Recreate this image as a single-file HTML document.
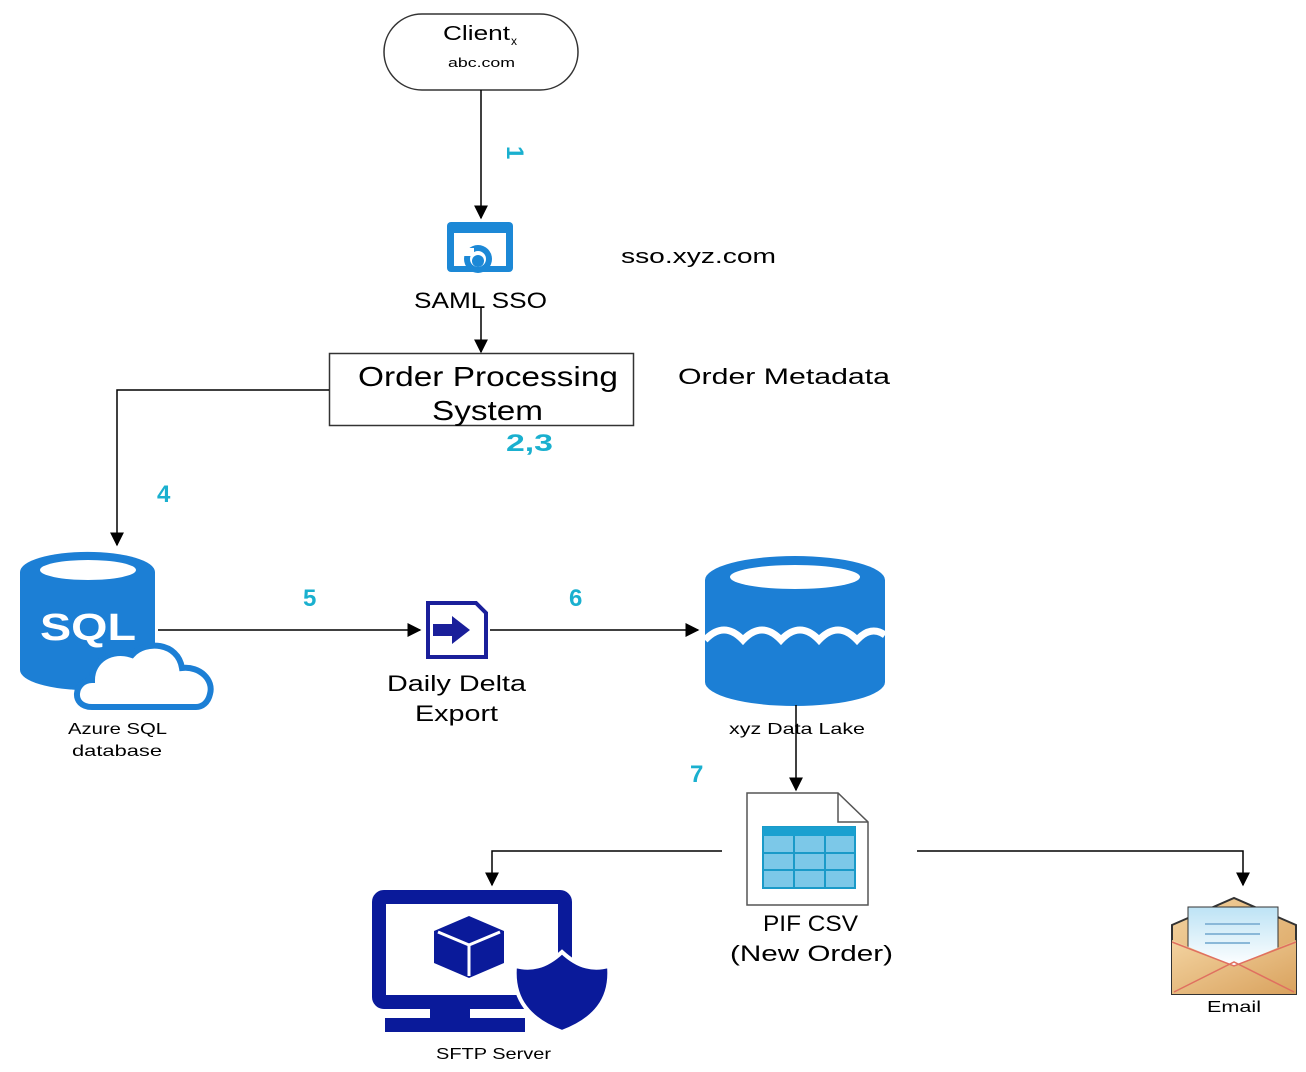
<!DOCTYPE html>
<html><head><meta charset="utf-8"><style>
html,body{margin:0;padding:0;background:#fff;}
svg{display:block;font-family:"Liberation Sans",sans-serif;}
.c{fill:#1ab0cf;font-weight:bold;font-size:24px;}
</style></head><body>
<svg width="1306" height="1072" viewBox="0 0 1306 1072" xmlns="http://www.w3.org/2000/svg">
<defs>
<marker id="ad" viewBox="0 0 10 10" markerWidth="14" markerHeight="16" refX="9" refY="5" orient="auto" markerUnits="userSpaceOnUse"><path d="M0,0 L10,5 L0,10 Z" fill="#000"/></marker>
<linearGradient id="env" x1="0" y1="0" x2="1" y2="1"><stop offset="0" stop-color="#f3d3a0"/><stop offset="1" stop-color="#d9a25e"/></linearGradient>
<linearGradient id="pap" x1="0" y1="0" x2="0" y2="1"><stop offset="0" stop-color="#bde3f5"/><stop offset="1" stop-color="#fff"/></linearGradient>
</defs>
<!-- client -->
<rect x="384" y="14" width="194" height="76" rx="38" fill="#fff" stroke="#333" stroke-width="1.5"/>
<text x="443" y="40" font-size="20" textLength="67" lengthAdjust="spacingAndGlyphs">Client</text>
<text x="511" y="45" font-size="12">x</text>
<text x="448" y="67" font-size="13" textLength="67" lengthAdjust="spacingAndGlyphs">abc.com</text>
<line x1="481" y1="90" x2="481" y2="218" stroke="#000" stroke-width="1.5" marker-end="url(#ad)"/>
<text class="c" x="0" y="0" transform="translate(507,146) rotate(90)" font-size="22">1</text>
<!-- SAML icon -->
<rect x="447" y="222" width="66" height="50" rx="4" fill="#1c88d6"/>
<rect x="454" y="233" width="52" height="33" fill="#fff"/>
<circle cx="478" cy="259" r="14" fill="#1c88d6"/>
<circle cx="478" cy="259" r="8" fill="#fff"/>
<circle cx="478" cy="261" r="6" fill="#1c88d6"/>
<rect x="456" y="248" width="18" height="8" fill="#fff"/>
<text x="414" y="308" font-size="22" textLength="133" lengthAdjust="spacingAndGlyphs">SAML SSO</text>
<text x="621" y="263" font-size="20" textLength="155" lengthAdjust="spacingAndGlyphs">sso.xyz.com</text>
<line x1="481" y1="308" x2="481" y2="352" stroke="#000" stroke-width="1.5" marker-end="url(#ad)"/>
<!-- order box -->
<rect x="329.5" y="353.5" width="304" height="72" fill="#fff" stroke="#333" stroke-width="1.5"/>
<text x="358" y="386" font-size="28" textLength="260" lengthAdjust="spacingAndGlyphs">Order Processing</text>
<text x="432" y="420" font-size="28" textLength="111" lengthAdjust="spacingAndGlyphs">System</text>
<text class="c" x="506" y="451" textLength="47" lengthAdjust="spacingAndGlyphs">2,3</text>
<text x="678" y="384" font-size="22" textLength="212" lengthAdjust="spacingAndGlyphs">Order Metadata</text>
<polyline points="329,390 117,390 117,545" fill="none" stroke="#000" stroke-width="1.5" marker-end="url(#ad)"/>
<text class="c" x="157" y="502">4</text>
<!-- SQL -->
<path d="M20,572 A67,20 0 0 1 155,572 L155,670 A67,20 0 0 1 20,670 Z" fill="#1c7fd5"/>
<ellipse cx="88" cy="570" rx="48" ry="10" fill="#fff"/>
<text x="40" y="640" font-size="38" font-weight="bold" fill="#fff" textLength="96" lengthAdjust="spacingAndGlyphs">SQL</text>
<path d="M92,707 C70,707 74,680 92,680 C92,660 112,648 132,655 C145,640 178,642 182,668 C200,666 214,680 210,694 C208,703 202,707 196,707 Z" fill="#fff" stroke="#1c7fd5" stroke-width="6"/>
<text x="68" y="734" font-size="16" textLength="99" lengthAdjust="spacingAndGlyphs">Azure SQL</text>
<text x="72" y="756" font-size="16" textLength="90" lengthAdjust="spacingAndGlyphs">database</text>
<line x1="158" y1="630" x2="420" y2="630" stroke="#000" stroke-width="1.5" marker-end="url(#ad)"/>
<text class="c" x="303" y="606">5</text>
<!-- export -->
<path d="M428,603 L476,603 L486,613 L486,657 L428,657 Z" fill="#fff" stroke="#1a1f9a" stroke-width="4"/>
<path d="M433,624 L452,624 L452,616 L470,630 L452,644 L452,636 L433,636 Z" fill="#1a1f9a"/>
<text x="387" y="691" font-size="22" textLength="139" lengthAdjust="spacingAndGlyphs">Daily Delta</text>
<text x="415" y="721" font-size="22" textLength="83" lengthAdjust="spacingAndGlyphs">Export</text>
<line x1="490" y1="630" x2="698" y2="630" stroke="#000" stroke-width="1.5" marker-end="url(#ad)"/>
<text class="c" x="569" y="606">6</text>
<!-- data lake -->
<path d="M705,580 A90,24 0 0 1 885,580 L885,682 A90,24 0 0 1 705,682 Z" fill="#1c7fd5"/>
<ellipse cx="795" cy="577" rx="65" ry="12" fill="#fff"/>
<path d="M705,640 Q724,620 743,640 Q762,620 781,640 Q800,620 819,640 Q838,620 857,640 Q871,625 885,635" fill="none" stroke="#fff" stroke-width="7"/>
<text x="729" y="734" font-size="16" textLength="136" lengthAdjust="spacingAndGlyphs">xyz Data Lake</text>
<line x1="796" y1="705" x2="796" y2="790" stroke="#000" stroke-width="1.5" marker-end="url(#ad)"/>
<text class="c" x="690" y="782">7</text>
<!-- CSV -->
<path d="M747,793 L838,793 L868,822 L868,905 L747,905 Z" fill="#fff" stroke="#555" stroke-width="1.5"/>
<path d="M838,793 L838,822 L868,822" fill="none" stroke="#555" stroke-width="1.5"/>
<rect x="763" y="827" width="92" height="61" fill="#7cc8e8" stroke="#1a9ac8" stroke-width="2"/>
<rect x="763" y="827" width="92" height="9" fill="#1aa0d0"/>
<g stroke="#1a9ac8" stroke-width="2"><line x1="794" y1="836" x2="794" y2="888"/><line x1="825" y1="836" x2="825" y2="888"/><line x1="763" y1="853" x2="855" y2="853"/><line x1="763" y1="870" x2="855" y2="870"/></g>
<text x="763" y="931" font-size="22" textLength="95" lengthAdjust="spacingAndGlyphs">PIF CSV</text>
<text x="730" y="961" font-size="22" textLength="163" lengthAdjust="spacingAndGlyphs">(New Order)</text>
<polyline points="722,851 492,851 492,885" fill="none" stroke="#000" stroke-width="1.5" marker-end="url(#ad)"/>
<polyline points="917,851 1243,851 1243,885" fill="none" stroke="#000" stroke-width="1.5" marker-end="url(#ad)"/>
<!-- SFTP -->
<rect x="379" y="897" width="186" height="105" rx="5" fill="none" stroke="#0a1a9a" stroke-width="14"/>
<rect x="430" y="1000" width="40" height="20" fill="#0a1a9a"/>
<rect x="385" y="1018" width="140" height="14" fill="#0a1a9a"/>
<path d="M469,916 L504,931 L504,963 L469,978 L434,963 L434,931 Z" fill="#0a1a9a"/>
<path d="M438,932 L469,945 L500,932 M469,945 L469,976" fill="none" stroke="#fff" stroke-width="3"/>
<path d="M562,952 C545,968 530,970 515,966 C512,1000 530,1020 562,1032 C594,1020 612,1000 609,966 C594,970 579,968 562,952 Z" fill="#0a1a9a" stroke="#fff" stroke-width="4"/>
<text x="436" y="1059" font-size="16" textLength="115" lengthAdjust="spacingAndGlyphs">SFTP Server</text>
<!-- email -->
<path d="M1172,925 L1234,898 L1296,925 L1296,994 L1172,994 Z" fill="url(#env)" stroke="#333" stroke-width="2"/>
<rect x="1188" y="907" width="90" height="60" fill="url(#pap)" stroke="#333" stroke-width="1"/>
<g stroke="#8ab8d8" stroke-width="2"><line x1="1205" y1="924" x2="1260" y2="924"/><line x1="1205" y1="934" x2="1260" y2="934"/><line x1="1205" y1="943" x2="1250" y2="943"/></g>
<path d="M1172,940 L1234,966 L1296,940 L1296,994 L1172,994 Z" fill="url(#env)"/>
<path d="M1174,992 L1234,962 L1294,992 M1172,942 L1234,966 L1296,942" fill="none" stroke="#e07060" stroke-width="1.5"/>
<text x="1207" y="1012" font-size="16" textLength="54" lengthAdjust="spacingAndGlyphs">Email</text>
</svg>
</body></html>
